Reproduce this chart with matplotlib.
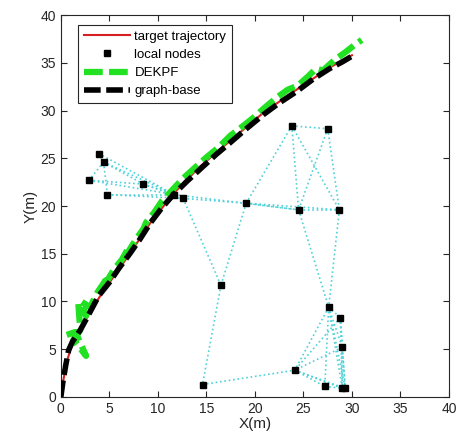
import numpy as np
import matplotlib
matplotlib.use('Agg')
import matplotlib.pyplot as plt

plt.rcParams['font.family'] = ['Liberation Sans', 'DejaVu Sans']

# target trajectory
tx = [0, 0.3, 0.7, 1.2, 2.0, 3.0, 4.2, 5.3, 7.1, 9.2, 11.6, 14.3, 17.4, 20.9, 24.3, 27.7, 30.0]
ty = [0, 2.0, 4.0, 5.6, 7.0, 8.9, 10.8, 12.4, 15.0, 18.2, 21.3, 24.1, 26.8, 29.8, 32.2, 34.5, 35.8]

# DEKPF estimate
gx = [0.6, 1.5, 2.6, 1.3, 2.0, 1.8, 2.6, 2.1, 3.0, 3.8, 4.6, 4.3, 5.5, 6.3, 6.9, 6.7, 7.8, 8.5, 8.8, 9.6,
      10.4, 11.5, 12.6, 13.8, 15.0, 16.2, 17.5, 18.8, 19.9, 21.0, 22.3, 23.4, 24.4, 25.5, 26.3, 27.0, 28.2,
      29.3, 30.3, 31.0]
gy = [6.5, 6.8, 4.3, 6.0, 7.0, 9.8, 8.5, 10.0, 9.4, 11.0, 12.2, 11.4, 13.4, 14.4, 15.5, 14.8, 16.6, 17.6,
      18.3, 19.3, 20.5, 21.7, 22.9, 24.0, 25.1, 26.1, 27.4, 28.4, 29.3, 30.3, 31.4, 32.2, 32.6, 33.6, 34.4,
      34.2, 35.3, 36.1, 36.9, 37.4]

# graph-base estimate
bx = [0.0, 0.2, 0.5, 0.8, 1.2, 2.0, 2.8, 3.9, 5.0, 6.0, 7.1, 8.2, 9.2, 10.4, 11.6, 13.0, 14.5, 16.0,
      17.4, 19.0, 20.9, 22.5, 24.3, 26.0, 27.7, 29.0, 30.0]
by = [0.0, 1.5, 3.3, 4.9, 5.8, 7.0, 8.5, 10.6, 12.0, 13.5, 15.0, 16.6, 18.2, 19.8, 21.2, 22.6, 24.0, 25.4,
      26.6, 28.0, 29.6, 30.8, 32.0, 33.3, 34.4, 35.1, 35.7]

# local nodes
nx = [3.9, 4.4, 2.9, 4.8, 8.5, 11.7, 12.6, 23.8, 27.5, 19.1, 24.5, 28.7, 16.5, 14.6,
      27.6, 28.8, 29.0, 24.1, 27.2, 29.0, 29.3]
ny = [25.5, 24.6, 22.7, 21.2, 22.3, 21.2, 20.8, 28.4, 28.1, 20.3, 19.6, 19.6, 11.7, 1.3,
      9.4, 8.3, 5.2, 2.8, 1.1, 0.9, 0.9]

# communication links between nodes (index pairs)
links = [(0, 1), (1, 3), (1, 2), (0, 5), (1, 5), (2, 4), (4, 5), (2, 5), (3, 6), (3, 5), (4, 6), (1, 4),
         (6, 9), (9, 10), (10, 11), (9, 11), (5, 10), (6, 12), (9, 12), (12, 13), (13, 17),
         (7, 8), (7, 9), (7, 10), (7, 11), (8, 10), (8, 11), (10, 14), (11, 14),
         (14, 15), (14, 16), (14, 17), (14, 18), (14, 19), (14, 20), (15, 16), (15, 19), (15, 20),
         (16, 17), (16, 19), (16, 20), (17, 18), (17, 19), (17, 20), (18, 19), (15, 17)]

fig = plt.figure(figsize=(4.61, 4.45), dpi=100)
ax = fig.add_axes([0.132, 0.108, 0.842, 0.858])

for i, j in links:
    ax.plot([nx[i], nx[j]], [ny[i], ny[j]], ':', color='#4fd2d8', lw=1.2, zorder=1)

ax.plot(tx, ty, '-', color='#d62020', lw=1.5, zorder=2, label='target trajectory')
ax.plot(nx, ny, 's', color='k', ms=5, ls='none', zorder=5, label='local nodes')
ax.plot(gx, gy, '--', color='#22e022', lw=4.5, dashes=(3, 1), zorder=3, label='DEKPF')
ax.plot(bx, by, '--', color='k', lw=4, dashes=(3, 1), zorder=4, label='graph-base')

ax.set_xlim(0, 40)
ax.set_ylim(0, 40)
ax.set_xticks(np.arange(0, 41, 5))
ax.set_yticks(np.arange(0, 41, 5))
ax.tick_params(direction='in', top=True, right=True, length=4, labelsize=10,
               colors='#262626', labelcolor='#262626')
for s in ax.spines.values():
    s.set_color('#262626')
    s.set_linewidth(0.8)
ax.set_xlabel('X(m)', fontsize=11, color='#262626', labelpad=1)
ax.set_ylabel('Y(m)', fontsize=11, color='#262626', labelpad=2)

leg = ax.legend(loc='upper left', bbox_to_anchor=(0.045, 0.975), fontsize=9.5, handlelength=3.5,
                fancybox=False, edgecolor='#262626', framealpha=1, borderpad=0.45,
                labelspacing=0.45, handletextpad=0.3, borderaxespad=0)
leg.get_frame().set_linewidth(0.8)

fig.savefig('out.png', dpi=100)
